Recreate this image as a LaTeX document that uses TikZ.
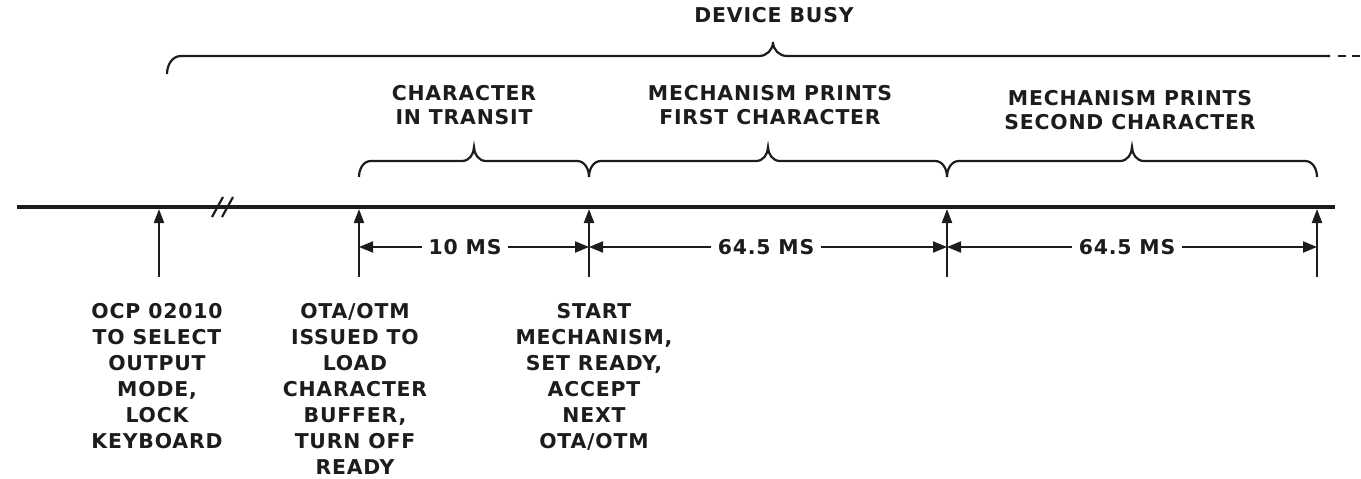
\documentclass[tikz,border=0pt]{standalone}
\usepackage{fontspec}
\setmainfont{DejaVu Sans}[LetterSpace=4]
\usepackage{tikz}
\usetikzlibrary{arrows.meta,positioning,calc}
\definecolor{ink}{HTML}{1C1C1C}

\begin{document}
\begin{tikzpicture}[x=0.5pt, y=-0.5pt, ink,
    txt/.style={align=center, inner sep=0pt, font=\bfseries\fontsize{10.2}{13}\selectfont},
    toptxt/.style={txt, font=\bfseries\fontsize{10.2}{12}\selectfont},
    evt/.style={line width=1.1pt, -{Triangle[length=7pt,width=5pt]}},
    dim/.style={line width=1pt, -{Triangle[length=7pt,width=5.5pt]}},
    span/.style={line width=1.1pt}]
  \useasboundingbox (0,0) rectangle (1361,478);

  % time axis with break
  \coordinate (ax0) at (17,207);
  \coordinate (ax1) at (1335,207);
  \draw[line width=2.3pt] (ax0) -- (ax1);
  \draw[line width=1.1pt] (212,217) -- (223,197) (222,217) -- (233,197);

  % events on the axis
  \foreach \n/\x in {1/159, 2/359, 3/589, 4/947, 5/1317} {
    \coordinate (t\n) at (\x,209);
    \coordinate (b\n) at (\x,277);
    \draw[evt] (b\n) -- (t\n);
  }

  \node[txt, anchor=north] (ocp) at (157,303) {OCP 02010\\TO SELECT\\OUTPUT\\MODE,\\LOCK\\KEYBOARD};
  \node[txt, anchor=north] (ota) at (355,303) {OTA/OTM\\ISSUED TO\\LOAD\\CHARACTER\\BUFFER,\\TURN OFF\\READY};
  \node[txt, anchor=north] (go) at (594,303) {START\\MECHANISM,\\SET READY,\\ACCEPT\\NEXT\\OTA/OTM};

  % interval lengths
  \node[txt, inner xsep=3pt] (ms10) at (465,247) {10 MS};
  \node[txt, inner xsep=3pt] (msa) at (766,247) {64.5 MS};
  \node[txt, inner xsep=3pt] (msb) at (1127,247) {64.5 MS};
  \draw[dim] (ms10.west) -- (ms10.west -| t2);
  \draw[dim] (ms10.east) -- (ms10.east -| t3);
  \draw[dim] (msa.west) -- (msa.west -| t3);
  \draw[dim] (msa.east) -- (msa.east -| t4);
  \draw[dim] (msb.west) -- (msb.west -| t4);
  \draw[dim] (msb.east) -- (msb.east -| t5);

  % what happens in each interval
  \foreach \a/\m/\b in {359/474/589, 589/768/947, 947/1132/1317}
    \draw[span] (\a,177) to[out=90,in=180] (\a+12,161) -- (\m-12,161)
      to[out=0,in=-90] (\m,147) to[out=-90,in=180] (\m+12,161) -- (\b-12,161)
      to[out=0,in=90] (\b,177);
  \node[toptxt] (transit) at (464,105) {CHARACTER\\IN TRANSIT};
  \node[toptxt] (first) at (770,105) {MECHANISM PRINTS\\FIRST CHARACTER};
  \node[toptxt] (second) at (1130,110) {MECHANISM PRINTS\\SECOND CHARACTER};

  % device busy, open to the right
  \node[txt] (busy) at (774,15) {DEVICE BUSY};
  \draw[span] (167,74) to[out=90,in=180] (181,56) -- (759,56)
    to[out=0,in=-90] (773,42) to[out=-90,in=180] (787,56) -- (1330,56);
  \draw[span, dash pattern=on 4pt off 3pt] (1338,56) -- (1361,56);
\end{tikzpicture}
\end{document}
